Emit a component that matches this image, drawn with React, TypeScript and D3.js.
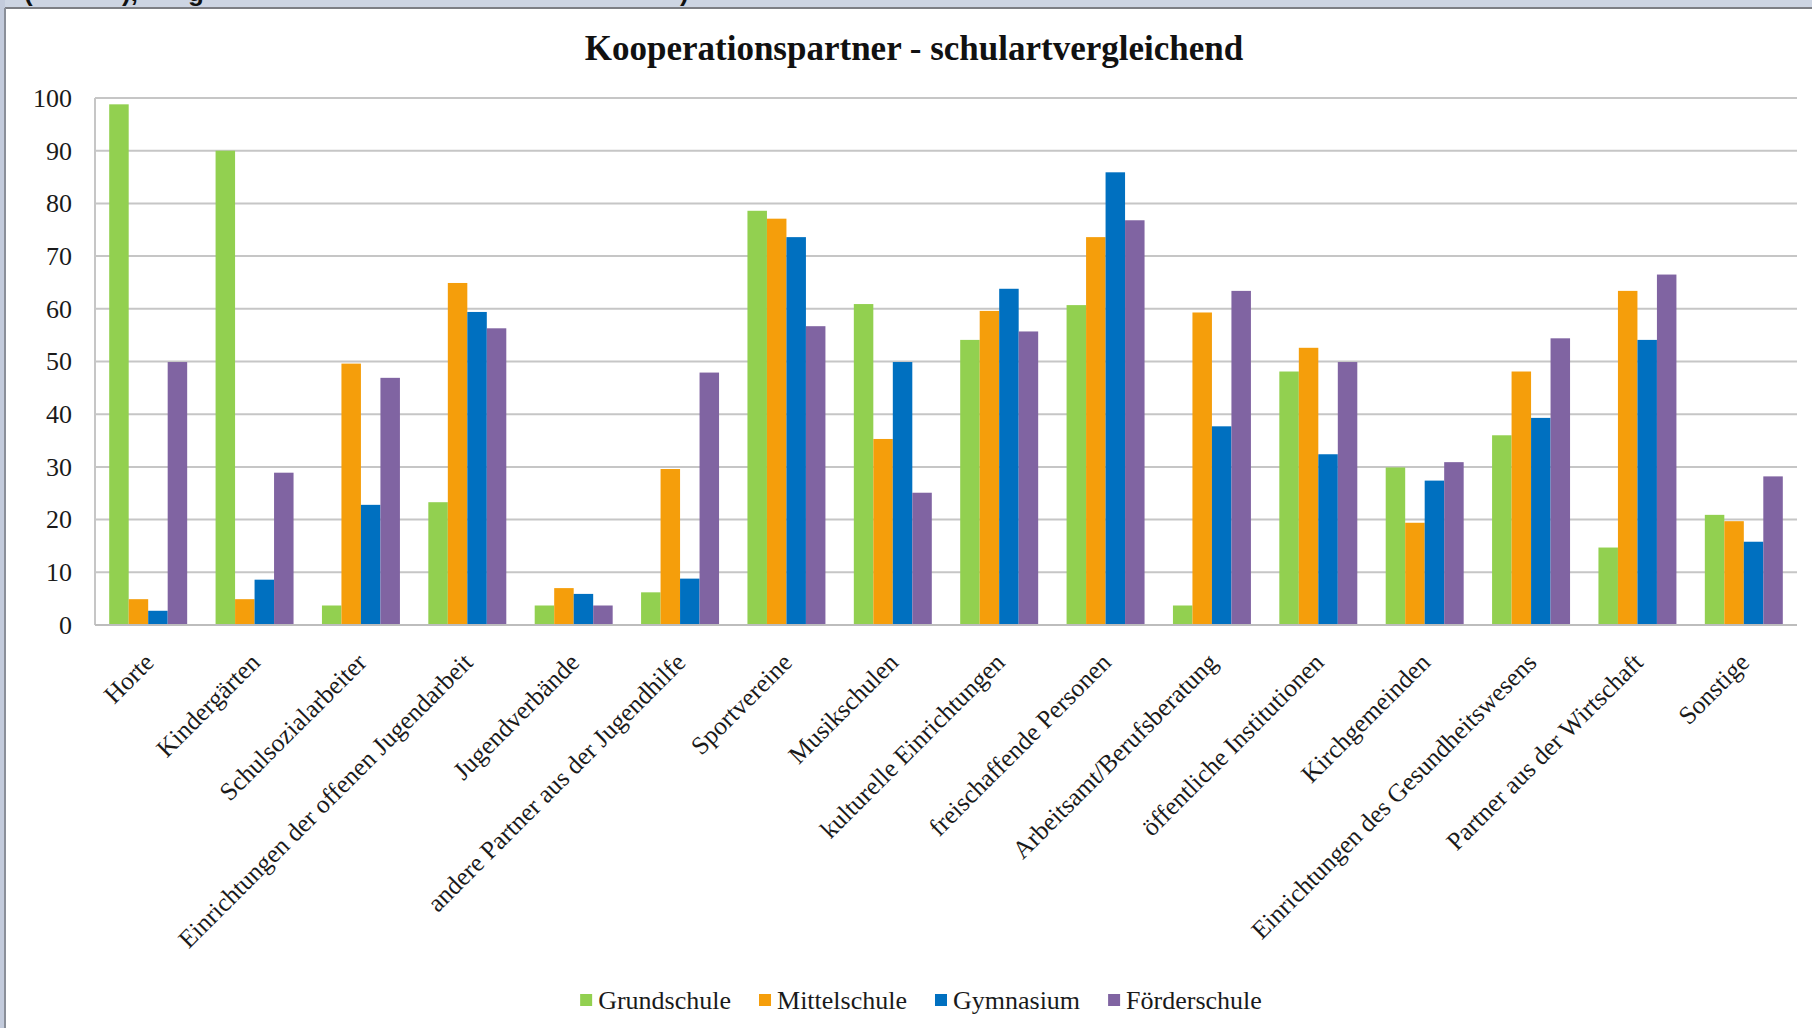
import React, {useEffect, useRef} from 'react'
import * as d3 from 'd3'

const categories = [
    'Horte',
    'Kindergärten',
    'Schulsozialarbeiter',
    'Einrichtungen der offenen Jugendarbeit',
    'Jugendverbände',
    'andere Partner aus der Jugendhilfe',
    'Sportvereine',
    'Musikschulen',
    'kulturelle Einrichtungen',
    'freischaffende Personen',
    'Arbeitsamt/Berufsberatung',
    'öffentliche Institutionen',
    'Kirchgemeinden',
    'Einrichtungen des Gesundheitswesens',
    'Partner aus der Wirtschaft',
    'Sonstige',
]

const grundschule = [98.8, 90.0, 3.7, 23.3, 3.7, 6.2, 78.6, 60.9, 54.1, 60.7, 3.7, 48.1, 29.9, 36.0, 14.7, 20.9]
const mittelschule = [4.9, 4.9, 49.6, 64.9, 7.0, 29.6, 77.1, 35.3, 59.6, 73.6, 59.3, 52.6, 19.4, 48.1, 63.4, 19.7]
const gymnasium = [2.7, 8.6, 22.8, 59.4, 5.9, 8.8, 73.6, 49.9, 63.8, 85.9, 37.7, 32.4, 27.4, 39.3, 54.1, 15.8]
const foerderschule = [49.9, 28.9, 46.9, 56.3, 3.7, 47.9, 56.7, 25.1, 55.7, 76.8, 63.4, 49.9, 30.9, 54.4, 66.5, 28.2]

const seriesNames = ['Grundschule', 'Mittelschule', 'Gymnasium', 'Förderschule']
const seriesValues = [grundschule, mittelschule, gymnasium, foerderschule]
const colors = ['#92d050', '#f59e0b', '#0070c0', '#8064a2']

const yTicks = [0, 10, 20, 30, 40, 50, 60, 70, 80, 90, 100]

const title = 'Kooperationspartner - schulartvergleichend'

const W = 1812
const H = 1028
const plot = {left: 95, right: 1797, top: 98, bottom: 625}
const serif = '"Liberation Serif", "Times New Roman", serif'

export default function App() {
    const ref = useRef<SVGSVGElement>(null)

    useEffect(() => {
        document.body.style.margin = '0'
        const svg = d3.select(ref.current)
        svg.selectAll('*').remove()

        // window frame look
        svg.append('rect').attr('width', W).attr('height', H).attr('fill', '#ffffff')
        svg.append('rect').attr('x', 0).attr('y', 0).attr('width', W).attr('height', 8).attr('fill', '#cdd5e3')
        svg.append('rect').attr('x', 0).attr('y', 0).attr('width', 5).attr('height', H).attr('fill', '#c3cbdc')
        svg.append('line').attr('x1', 5).attr('x2', W).attr('y1', 8).attr('y2', 8)
            .attr('stroke', '#7d7f85').attr('stroke-width', 2)
        svg.append('line').attr('x1', 5).attr('x2', 5).attr('y1', 8).attr('y2', H)
            .attr('stroke', '#8a8f99').attr('stroke-width', 2)
        // cut-off text line above the chart (only descenders visible, as in the source)
        const topText = svg.append('g').attr('font-family', '"Liberation Sans", Arial, sans-serif')
            .attr('font-weight', 'bold').attr('font-size', 26).attr('fill', '#111')
        ;[['(', 24], ['),', 122], ['g', 188], [')', 680]].forEach(([t, x]) => {
            topText.append('text').attr('x', x as number).attr('y', 1).text(t as string)
        })

        const x0 = d3.scaleBand<string>()
            .domain(categories)
            .range([plot.left, plot.right])
            .paddingInner(0.267)
            .paddingOuter(0.1335)

        const x1 = d3.scaleBand<string>()
            .domain(seriesNames)
            .range([0, x0.bandwidth()])

        const y = d3.scaleLinear().domain([0, 100]).range([plot.bottom, plot.top])

        // title
        svg.append('text')
            .attr('x', 914).attr('y', 60)
            .attr('text-anchor', 'middle')
            .attr('font-family', serif).attr('font-weight', 'bold').attr('font-size', 35)
            .attr('fill', '#111')
            .text(title)

        // gridlines
        svg.append('g').selectAll('line')
            .data(yTicks.filter(d => d > 0))
            .join('line')
            .attr('x1', plot.left).attr('x2', plot.right)
            .attr('y1', d => y(d)).attr('y2', d => y(d))
            .attr('stroke', '#c6c6c6').attr('stroke-width', 2)

        // bars
        const groups = svg.append('g').selectAll('g')
            .data(categories)
            .join('g')
            .attr('transform', d => `translate(${x0(d)},0)`)

        groups.selectAll('rect')
            .data((c, i) => seriesNames.map((s, k) => ({s, k, v: seriesValues[k][i]})))
            .join('rect')
            .attr('x', d => x1(d.s) as number)
            .attr('width', x1.bandwidth())
            .attr('y', d => y(d.v))
            .attr('height', d => y(0) - y(d.v))
            .attr('fill', d => colors[d.k])

        // axes lines
        svg.append('line').attr('x1', plot.left).attr('x2', plot.left)
            .attr('y1', plot.top).attr('y2', plot.bottom)
            .attr('stroke', '#c6c6c6').attr('stroke-width', 2)
        svg.append('line').attr('x1', plot.left).attr('x2', plot.right)
            .attr('y1', plot.bottom).attr('y2', plot.bottom)
            .attr('stroke', '#bdbdbd').attr('stroke-width', 2)

        // y axis labels
        const yAxis = d3.axisLeft(y).tickValues(yTicks).tickSize(0).tickPadding(23)
        const yAxisGroup = svg.append('g').attr('transform', `translate(${plot.left},0)`).call(yAxis)
        yAxisGroup.select('.domain').remove()
        yAxisGroup.selectAll('text')
            .attr('font-family', serif).attr('font-size', 26).attr('fill', '#1a1a1a')

        // x labels rotated
        svg.append('g').selectAll('text')
            .data(categories)
            .join('text')
            .attr('text-anchor', 'end')
            .attr('transform', d => `translate(${(x0(d) as number) + x0.bandwidth() / 2 + 7},${664}) rotate(-45)`)
            .attr('font-family', serif).attr('font-size', 25.5).attr('fill', '#1a1a1a')
            .text(d => d)

        // legend
        const legend = svg.append('g')
        let cursor = 0
        seriesNames.forEach((s, k) => {
            const item = legend.append('g').attr('transform', `translate(${cursor},0)`)
            item.append('rect').attr('x', 0).attr('y', -6).attr('width', 12).attr('height', 12).attr('fill', colors[k])
            const t = item.append('text').attr('x', 18).attr('y', 9)
                .attr('font-family', serif).attr('font-size', 26).attr('fill', '#1a1a1a')
                .text(s)
            const w = (t.node() as SVGTextElement).getComputedTextLength()
            cursor += 18 + w + 28
        })
        const total = cursor - 28
        legend.attr('transform', `translate(${921 - total / 2},1000)`)
    }, [])

    return (
        <div style={{position: 'absolute', left: 0, top: 0}}>
            <svg ref={ref} width={W} height={H} style={{display: 'block'}} />
        </div>
    )
}
